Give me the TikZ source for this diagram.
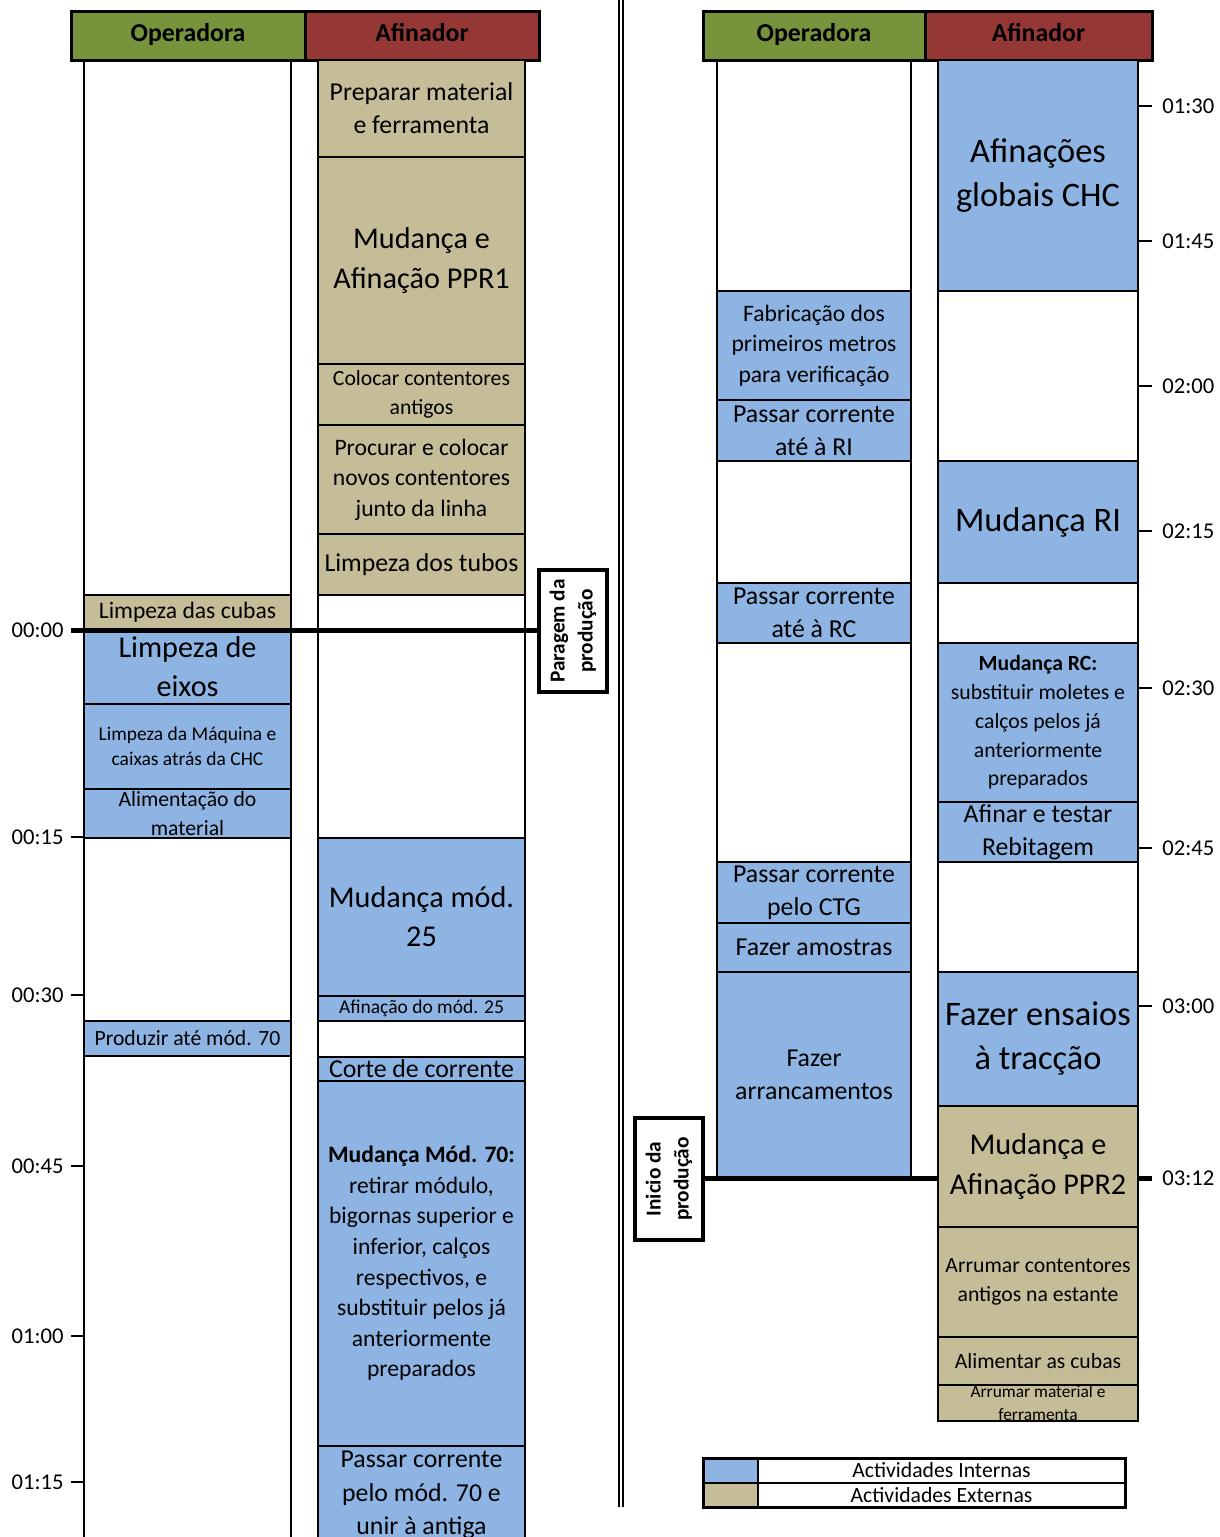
\documentclass[tikz,border=0pt]{standalone}
\usepackage{fontspec}
\setmainfont{Carlito}
\usepackage{tikz}
\usetikzlibrary{calc, positioning}

\definecolor{hdrgreen}{RGB}{119,147,60}
\definecolor{hdrred}{RGB}{149,55,53}
\definecolor{intblue}{RGB}{141,180,226}
\definecolor{exttan}{RGB}{196,189,151}

% font sizes %
\newcommand{\szhuge}{\fontsize{17.2}{22}\selectfont}
\newcommand{\szbig}{\fontsize{15.1}{19.6}\selectfont}
\newcommand{\szmed}{\fontsize{12.9}{16.6}\selectfont}
\newcommand{\szhead}{\fontsize{12.9}{16}\selectfont}
\newcommand{\sznorm}{\fontsize{11.8}{15.3}\selectfont}
\newcommand{\szsmall}{\fontsize{10.85}{14.4}\selectfont}
\newcommand{\sztiny}{\fontsize{9.75}{12.5}\selectfont}
\newcommand{\szmini}{\fontsize{8.7}{11.5}\selectfont}
\newcommand{\szrot}{\fontsize{10.65}{14}\selectfont}

% box from x1 to x2, y1 to y2 with centred text %
\newcommand{\actbox}[8]{%
  \draw[#2] (#4,#6) rectangle (#5,#7);
  \node[boxtext, font=#3] (#1) at ({(#4+#5)/2},{(#6+#7)/2}) {#8};}

\begin{document}
\begin{tikzpicture}
		[x=0.5pt, y=-0.5pt,
		int/.style={fill=intblue, draw=black, line width=1pt},
		ext/.style={fill=exttan, draw=black, line width=1pt},
		hdr/.style={draw=black, line width=1.5pt},
		boxtext/.style={align=center, inner sep=0pt},
		colline/.style={line width=1pt},
		milestone/.style={line width=2.5pt},
		tick/.style={line width=1pt},
		ticklbl/.style={inner sep=0pt, font=\fontsize{11.3}{13}\selectfont},
		marker/.style={draw=black, line width=2pt, fill=white, align=center, inner sep=0pt,
			rotate=90, minimum width=61pt, minimum height=34pt, font={\szrot\bfseries}}]
		\fill[white] (0,0) rectangle (1220,1537);
		\clip (0,0) rectangle (1220,1537);

		% headers %
		\actbox{lhop}{hdr, fill=hdrgreen}{\szhead\bfseries}{71}{305}{11}{60}{Operadora\strut}
		\actbox{lhaf}{hdr, fill=hdrred}{\szhead\bfseries}{305}{539}{11}{60}{Afinador\strut}
		\actbox{rhop}{hdr, fill=hdrgreen}{\szhead\bfseries}{703}{925}{11}{60}{Operadora\strut}
		\actbox{rhaf}{hdr, fill=hdrred}{\szhead\bfseries}{925}{1152}{11}{60}{Afinador\strut}

		% left operadora %
		\actbox{lcubas}{ext}{\sznorm}{84}{291}{595}{630}{Limpeza das cubas}
		\actbox{leixos}{int}{\szbig}{84}{291}{630}{704}{Limpeza de\\eixos}
		\actbox{lmaq}{int}{\sztiny}{84}{291}{704}{789}{Limpeza da Máquina e\\caixas atrás da CHC}
		\actbox{lalim}{int}{\szsmall}{84}{291}{789}{838}{Alimentação do\\material}
		\actbox{lprod}{int}{\szsmall}{84}{291}{1021}{1056}{Produzir até mód. 70}

		% left afinador %
		\actbox{lprep}{ext}{\szmed}{318}{525}{60}{157}{Preparar material\\e ferramenta}
		\actbox{lppr1}{ext}{\szbig}{318}{525}{157}{364}{Mudança e\\Afinação PPR1}
		\actbox{lcont}{ext}{\szsmall}{318}{525}{364}{425}{Colocar contentores\\antigos}
		\actbox{lnovos}{ext}{\sznorm}{318}{525}{425}{534}{Procurar e colocar\\novos contentores\\junto da linha}
		\actbox{ltubos}{ext}{\szmed}{318}{525}{534}{595}{Limpeza dos tubos}
		\actbox{lm25}{int}{\szbig}{318}{525}{838}{996}{Mudança mód.\\25}
		\actbox{laf25}{int}{\sztiny}{318}{525}{996}{1021}{Afinação do mód. 25}
		\actbox{lcorte}{int}{\szmed}{318}{525}{1057}{1081}{Corte de corrente}
		\actbox{lm70}{int}{\sznorm}{318}{525}{1081}{1446}{\textbf{Mudança Mód. 70:}\\retirar módulo,\\bigornas superior e\\inferior, calços\\respectivos, e\\substituir pelos já\\anteriormente\\preparados}
		\actbox{lpass}{int}{\szmed}{318}{525}{1446}{1544}{Passar corrente\\pelo mód. 70 e\\unir à antiga}

		% right operadora %
		\actbox{rfab}{int}{\sznorm}{717}{911}{291}{400}{Fabricação dos\\primeiros metros\\para verificação}
		\actbox{rri}{int}{\szmed}{717}{911}{400}{461}{Passar corrente\\até à RI}
		\actbox{rrc}{int}{\szmed}{717}{911}{583}{643}{Passar corrente\\até à RC}
		\actbox{rctg}{int}{\szmed}{717}{911}{862}{923}{Passar corrente\\pelo CTG}
		\actbox{ramos}{int}{\szmed}{717}{911}{923}{972}{Fazer amostras}
		\actbox{rarr}{int}{\szmed}{717}{911}{972}{1177}{Fazer\\arrancamentos}

		% right afinador %
		\actbox{rchc}{int}{\szhuge}{938}{1138}{60}{291}{Afinações\\globais CHC}
		\actbox{rmri}{int}{\szhuge}{938}{1138}{461}{583}{Mudança RI}
		\actbox{rmrc}{int}{\szsmall}{938}{1138}{643}{802}{\textbf{Mudança RC:}\\substituir moletes e\\calços pelos já\\anteriormente\\preparados}
		\actbox{rreb}{int}{\szmed}{938}{1138}{802}{862}{Afinar e testar\\Rebitagem}
		\actbox{rtrac}{int}{\szhuge}{938}{1138}{972}{1106}{Fazer ensaios\\à tracção}
		\actbox{rppr2}{ext}{\szbig}{938}{1138}{1106}{1227}{Mudança e\\Afinação PPR2}
		\actbox{rcont}{ext}{\szsmall}{938}{1138}{1227}{1337}{Arrumar contentores\\antigos na estante}
		\actbox{rcubas}{ext}{\szsmall}{938}{1138}{1337}{1385}{Alimentar as cubas}
		\actbox{rmat}{ext}{\szmini}{938}{1138}{1385}{1421}{Arrumar material e\\ferramenta}

		% column borders %
		\foreach \cx in {84,291,318,525}
			\draw[colline] (\cx,60) -- (\cx,1537);
		\foreach \cx in {717,911}
			\draw[colline] (\cx,60) -- (\cx,1177);
		\foreach \cx in {938,1138}
			\draw[colline] (\cx,60) -- (\cx,1421);

		% separator %
		\draw[colline] (619,0) -- (619,1507);
		\draw[colline] (623,0) -- (623,1507);

		% stop and start of production %
		\node[marker] (stop) at (573,631) {Paragem da\\produção};
		\node[marker] (start) at (669,1179) {Inicio da\\produção};
		\coordinate (t0) at (71,630);
		\coordinate (t312) at (938,1178);
		\draw[milestone] (t0) -- (stop.north |- t0);
		\draw[milestone] (start.south |- t312) -- (t312);
		\draw[milestone] (1138,1178) -- (1152,1178);
		\node[ticklbl, anchor=east] (lt630) at (64,630) {00:00};
		\node[ticklbl, anchor=west] (rt1178) at (1162,1178) {03:12};

		% time ticks %
		\foreach \ty/\tl in {837/00:15, 995/00:30, 1166/00:45, 1336/01:00, 1482/01:15} {
			\draw[tick] (71,\ty) -- (84,\ty);
			\node[ticklbl, anchor=east] (lt\ty) at (64,\ty) {\tl};
		}
		\foreach \ty/\tl in {106/01:30, 241/01:45, 386/02:00, 531/02:15, 688/02:30, 848/02:45, 1006/03:00} {
			\draw[tick] (1138,\ty) -- (1152,\ty);
			\node[ticklbl, anchor=west] (rt\ty) at (1162,\ty) {\tl};
		}

		% legend %
		\actbox{swint}{int}{\szsmall}{703}{758}{1458}{1483}{}
		\actbox{legint}{draw=black, line width=1pt}{\szsmall}{758}{1125}{1458}{1483}{Actividades Internas}
		\actbox{swext}{ext}{\szsmall}{703}{758}{1483}{1507}{}
		\actbox{legext}{draw=black, line width=1pt}{\szsmall}{758}{1125}{1483}{1507}{Actividades Externas}
		\draw[line width=1.5pt] (703,1458) rectangle (1125,1507);
		\end{tikzpicture}
\end{document}
